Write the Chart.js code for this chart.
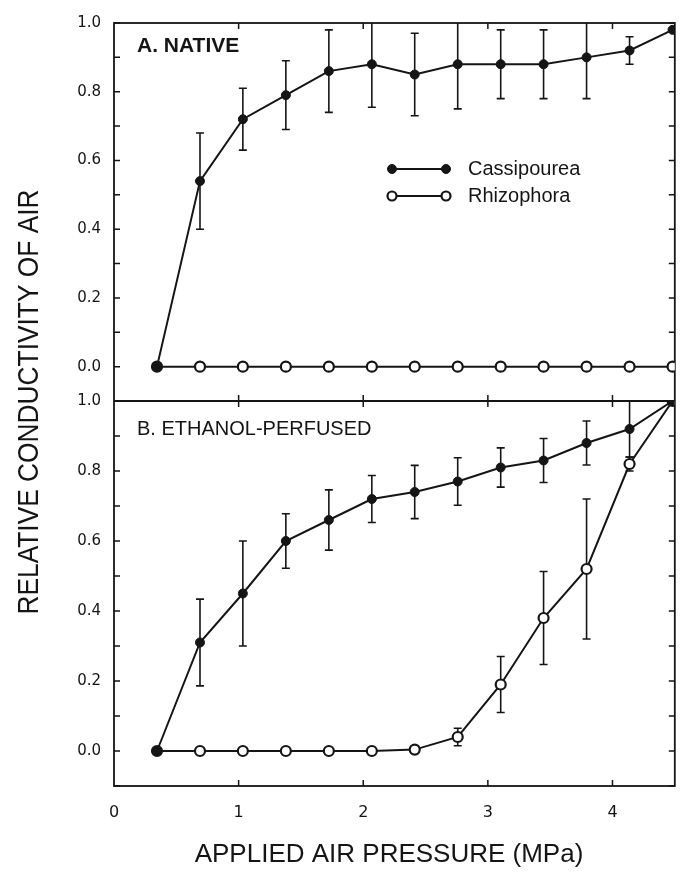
<!DOCTYPE html>
<html><head><meta charset="utf-8">
<script src="https://cdn.jsdelivr.net/npm/chart.js@4.4.1/dist/chart.umd.min.js"></script>
<style>html,body{margin:0;padding:0;background:#fff}#wrap{width:682px;height:875px}</style>
</head><body><div id="wrap"><canvas id="c" width="682" height="875"></canvas></div>
<script>
// ---- data ----
const pressures = [0.345, 0.69, 1.034, 1.379, 1.724, 2.069, 2.413, 2.758, 3.103, 3.447, 3.792, 4.137, 4.482];
const seriesNames = ['Cassipourea', 'Rhizophora'];
const panelTitles = ['A. NATIVE', 'B. ETHANOL-PERFUSED'];
const xTitle = 'APPLIED AIR PRESSURE (MPa)';
const yTitle = 'RELATIVE CONDUCTIVITY OF AIR';
const xTickValues = [0, 1, 2, 3, 4];
const yTickLabels = ['0.0', '0.2', '0.4', '0.6', '0.8', '1.0'];

const nativeCassipourea    = [0, 0.54, 0.72, 0.79, 0.86, 0.88, 0.85, 0.88, 0.88, 0.88, 0.90, 0.92, 0.98];
const nativeCassipoureaErr = [0, 0.14, 0.09, 0.10, 0.12, 0.125, 0.12, 0.13, 0.10, 0.10, 0.12, 0.04, 0];
const nativeRhizophora     = [0, 0, 0, 0, 0, 0, 0, 0, 0, 0, 0, 0, 0];
const nativeRhizophoraErr  = [0, 0, 0, 0, 0, 0, 0, 0, 0, 0, 0, 0, 0];

const ethanolCassipourea    = [0, 0.31, 0.45, 0.60, 0.66, 0.72, 0.74, 0.77, 0.81, 0.83, 0.88, 0.92, 1.0];
const ethanolCassipoureaErr = [0, 0.124, 0.15, 0.078, 0.086, 0.067, 0.076, 0.068, 0.056, 0.063, 0.063, 0.08, 0];
const ethanolRhizophora     = [0, 0, 0, 0, 0, 0, 0.004, 0.04, 0.19, 0.38, 0.52, 0.82, 1.0];
const ethanolRhizophoraErr  = [0, 0, 0, 0, 0, 0, 0, 0.025, 0.08, 0.133, 0.2, 0.02, 0];

// ---- helpers ----
const pts = (ys) => pressures.map((x, i) => ({x: x, y: ys[i]}));
const INK = '#151515';
const filledStyle = {borderColor: INK, backgroundColor: INK, pointBackgroundColor: INK, pointBorderColor: INK,
  pointRadius: 4.5, pointBorderWidth: 1, borderWidth: 2, order: 0};
const openStyle = {borderColor: INK, backgroundColor: '#fff', pointBackgroundColor: '#fff', pointBorderColor: INK,
  pointRadius: 5, pointBorderWidth: 2.2, borderWidth: 2, order: 1};

const datasets = [
  Object.assign({label: seriesNames[0], data: pts(nativeCassipourea), errors: nativeCassipoureaErr, yAxisID: 'yA'}, filledStyle),
  Object.assign({label: seriesNames[1], data: pts(nativeRhizophora), errors: nativeRhizophoraErr, yAxisID: 'yA'}, openStyle),
  Object.assign({label: seriesNames[0], data: pts(ethanolCassipourea), errors: ethanolCassipoureaErr, yAxisID: 'yB'}, filledStyle),
  Object.assign({label: seriesNames[1], data: pts(ethanolRhizophora), errors: ethanolRhizophoraErr, yAxisID: 'yB'}, openStyle),
];

function drawMarker(ctx, x, y, filled) {
  ctx.beginPath();
  ctx.arc(x, y, 4.5, 0, Math.PI * 2);
  ctx.fillStyle = filled ? INK : '#fff';
  ctx.fill();
  ctx.lineWidth = filled ? 1 : 2.2;
  ctx.strokeStyle = INK;
  ctx.stroke();
}

const overlay = {
  id: 'overlay',
  beforeDatasetsDraw(chart) {
    const ctx = chart.ctx, xs = chart.scales.x, ca = chart.chartArea;
    ctx.save();
    ctx.strokeStyle = INK;
    ctx.lineWidth = 1.8;
    ctx.strokeRect(ca.left, ca.top, ca.right - ca.left, ca.bottom - ca.top);
    const yA = chart.scales.yA, yB = chart.scales.yB;
    ctx.beginPath();
    ctx.moveTo(ca.left, yA.bottom); ctx.lineTo(ca.right, yA.bottom); ctx.stroke();
    ctx.lineWidth = 1.5;
    [yA, yB].forEach(ys => {
      ys.ticks.forEach(t => {
        const py = ys.getPixelForValue(t.value);
        ctx.beginPath();
        ctx.moveTo(ca.left, py); ctx.lineTo(ca.left + 6, py);
        ctx.moveTo(ca.right, py); ctx.lineTo(ca.right - 6, py);
        ctx.stroke();
      });
      xs.ticks.forEach(t => {
        if (t.value <= xs.min || t.value >= xs.max) return;
        const px = xs.getPixelForValue(t.value);
        ctx.beginPath();
        ctx.moveTo(px, ys.top); ctx.lineTo(px, ys.top + 6);
        ctx.moveTo(px, ys.bottom); ctx.lineTo(px, ys.bottom - 6);
        ctx.stroke();
      });
    });
    // error bars
    ctx.lineWidth = 1.6;
    chart.data.datasets.forEach(ds => {
      const ys = chart.scales[ds.yAxisID];
      ctx.save();
      ctx.beginPath();
      ctx.rect(ca.left, ys.top, ca.right - ca.left, ys.bottom - ys.top);
      ctx.clip();
      ds.data.forEach((p, j) => {
        const e = ds.errors[j];
        if (!e) return;
        const px = xs.getPixelForValue(p.x);
        const y1 = ys.getPixelForValue(p.y + e), y2 = ys.getPixelForValue(p.y - e);
        ctx.beginPath();
        ctx.moveTo(px, y1); ctx.lineTo(px, y2);
        ctx.moveTo(px - 4, y1); ctx.lineTo(px + 4, y1);
        ctx.moveTo(px - 4, y2); ctx.lineTo(px + 4, y2);
        ctx.stroke();
      });
      ctx.restore();
    });
    ctx.restore();
  },
  afterDraw(chart) {
    const ctx = chart.ctx, ca = chart.chartArea;
    const yA = chart.scales.yA, yB = chart.scales.yB;
    ctx.save();
    ctx.fillStyle = INK;
    ctx.textBaseline = 'middle';
    ctx.textAlign = 'left';
    ctx.font = 'bold 21px "Liberation Sans", Arial, sans-serif';
    ctx.fillText(panelTitles[0], ca.left + 23, yA.top + 23);
    ctx.font = '20px "Liberation Sans", Arial, sans-serif';
    ctx.fillText(panelTitles[1], ca.left + 23, yB.top + 28);
    // legend
    const lx1 = 392, lx2 = 446, rows = [169, 196];
    ctx.font = '20px "Liberation Sans", Arial, sans-serif';
    seriesNames.forEach((name, i) => {
      const y = rows[i];
      ctx.strokeStyle = INK; ctx.lineWidth = 2;
      ctx.beginPath(); ctx.moveTo(lx1, y); ctx.lineTo(lx2, y); ctx.stroke();
      drawMarker(ctx, lx1, y, i === 0);
      drawMarker(ctx, lx2, y, i === 0);
      ctx.fillStyle = INK;
      ctx.fillText(name, 468, y);
    });
    // axis titles
    ctx.textAlign = 'center';
    ctx.font = '26px "Liberation Sans", Arial, sans-serif';
    ctx.fillText(xTitle, 389, 855);
    ctx.save();
    ctx.translate(30, 402);
    ctx.rotate(-Math.PI / 2);
    ctx.font = '30px "Liberation Sans Narrow", "Liberation Sans", sans-serif';
    const w = ctx.measureText(yTitle).width;
    ctx.scale(425 / w, 1);
    ctx.fillText(yTitle, 0, 0);
    ctx.restore();
    ctx.restore();
  }
};

const yScale = (weight) => ({
  type: 'linear', position: 'left', stack: 'panels', stackWeight: weight,
  min: -0.1, max: 1.0,
  grid: {display: false, drawTicks: false},
  border: {display: false},
  ticks: {
    stepSize: 0.1, padding: 13, color: INK, autoSkip: false,
    font: {family: '"DejaVu Sans", sans-serif', size: 15},
    callback: (v) => {
      const s = (Math.round(v * 10) / 10).toFixed(1);
      return yTickLabels.includes(s) ? s : '';
    }
  },
  afterFit: (s) => { s.width = 114; }
});

new Chart(document.getElementById('c'), {
  type: 'line',
  data: {datasets: datasets},
  options: {
    responsive: false, animation: false, devicePixelRatio: 1,
    layout: {padding: {top: 23, right: 2, left: 0, bottom: 0}},
    plugins: {legend: {display: false}, tooltip: {enabled: false}, title: {display: false}},
    elements: {line: {tension: 0}},
    scales: {
      x: {
        type: 'linear', min: 0, max: 4.5,
        grid: {display: false, drawTicks: false},
        border: {display: false},
        afterBuildTicks: (s) => { s.ticks = xTickValues.map(v => ({value: v})); },
        ticks: {padding: 17, color: INK, autoSkip: false, font: {family: '"DejaVu Sans", sans-serif', size: 16},
          callback: (v) => String(v)},
        afterFit: (s) => { s.height = 89; }
      },
      yB: yScale(385),
      yA: yScale(378)
    }
  },
  plugins: [overlay]
});
</script>
</body></html>
